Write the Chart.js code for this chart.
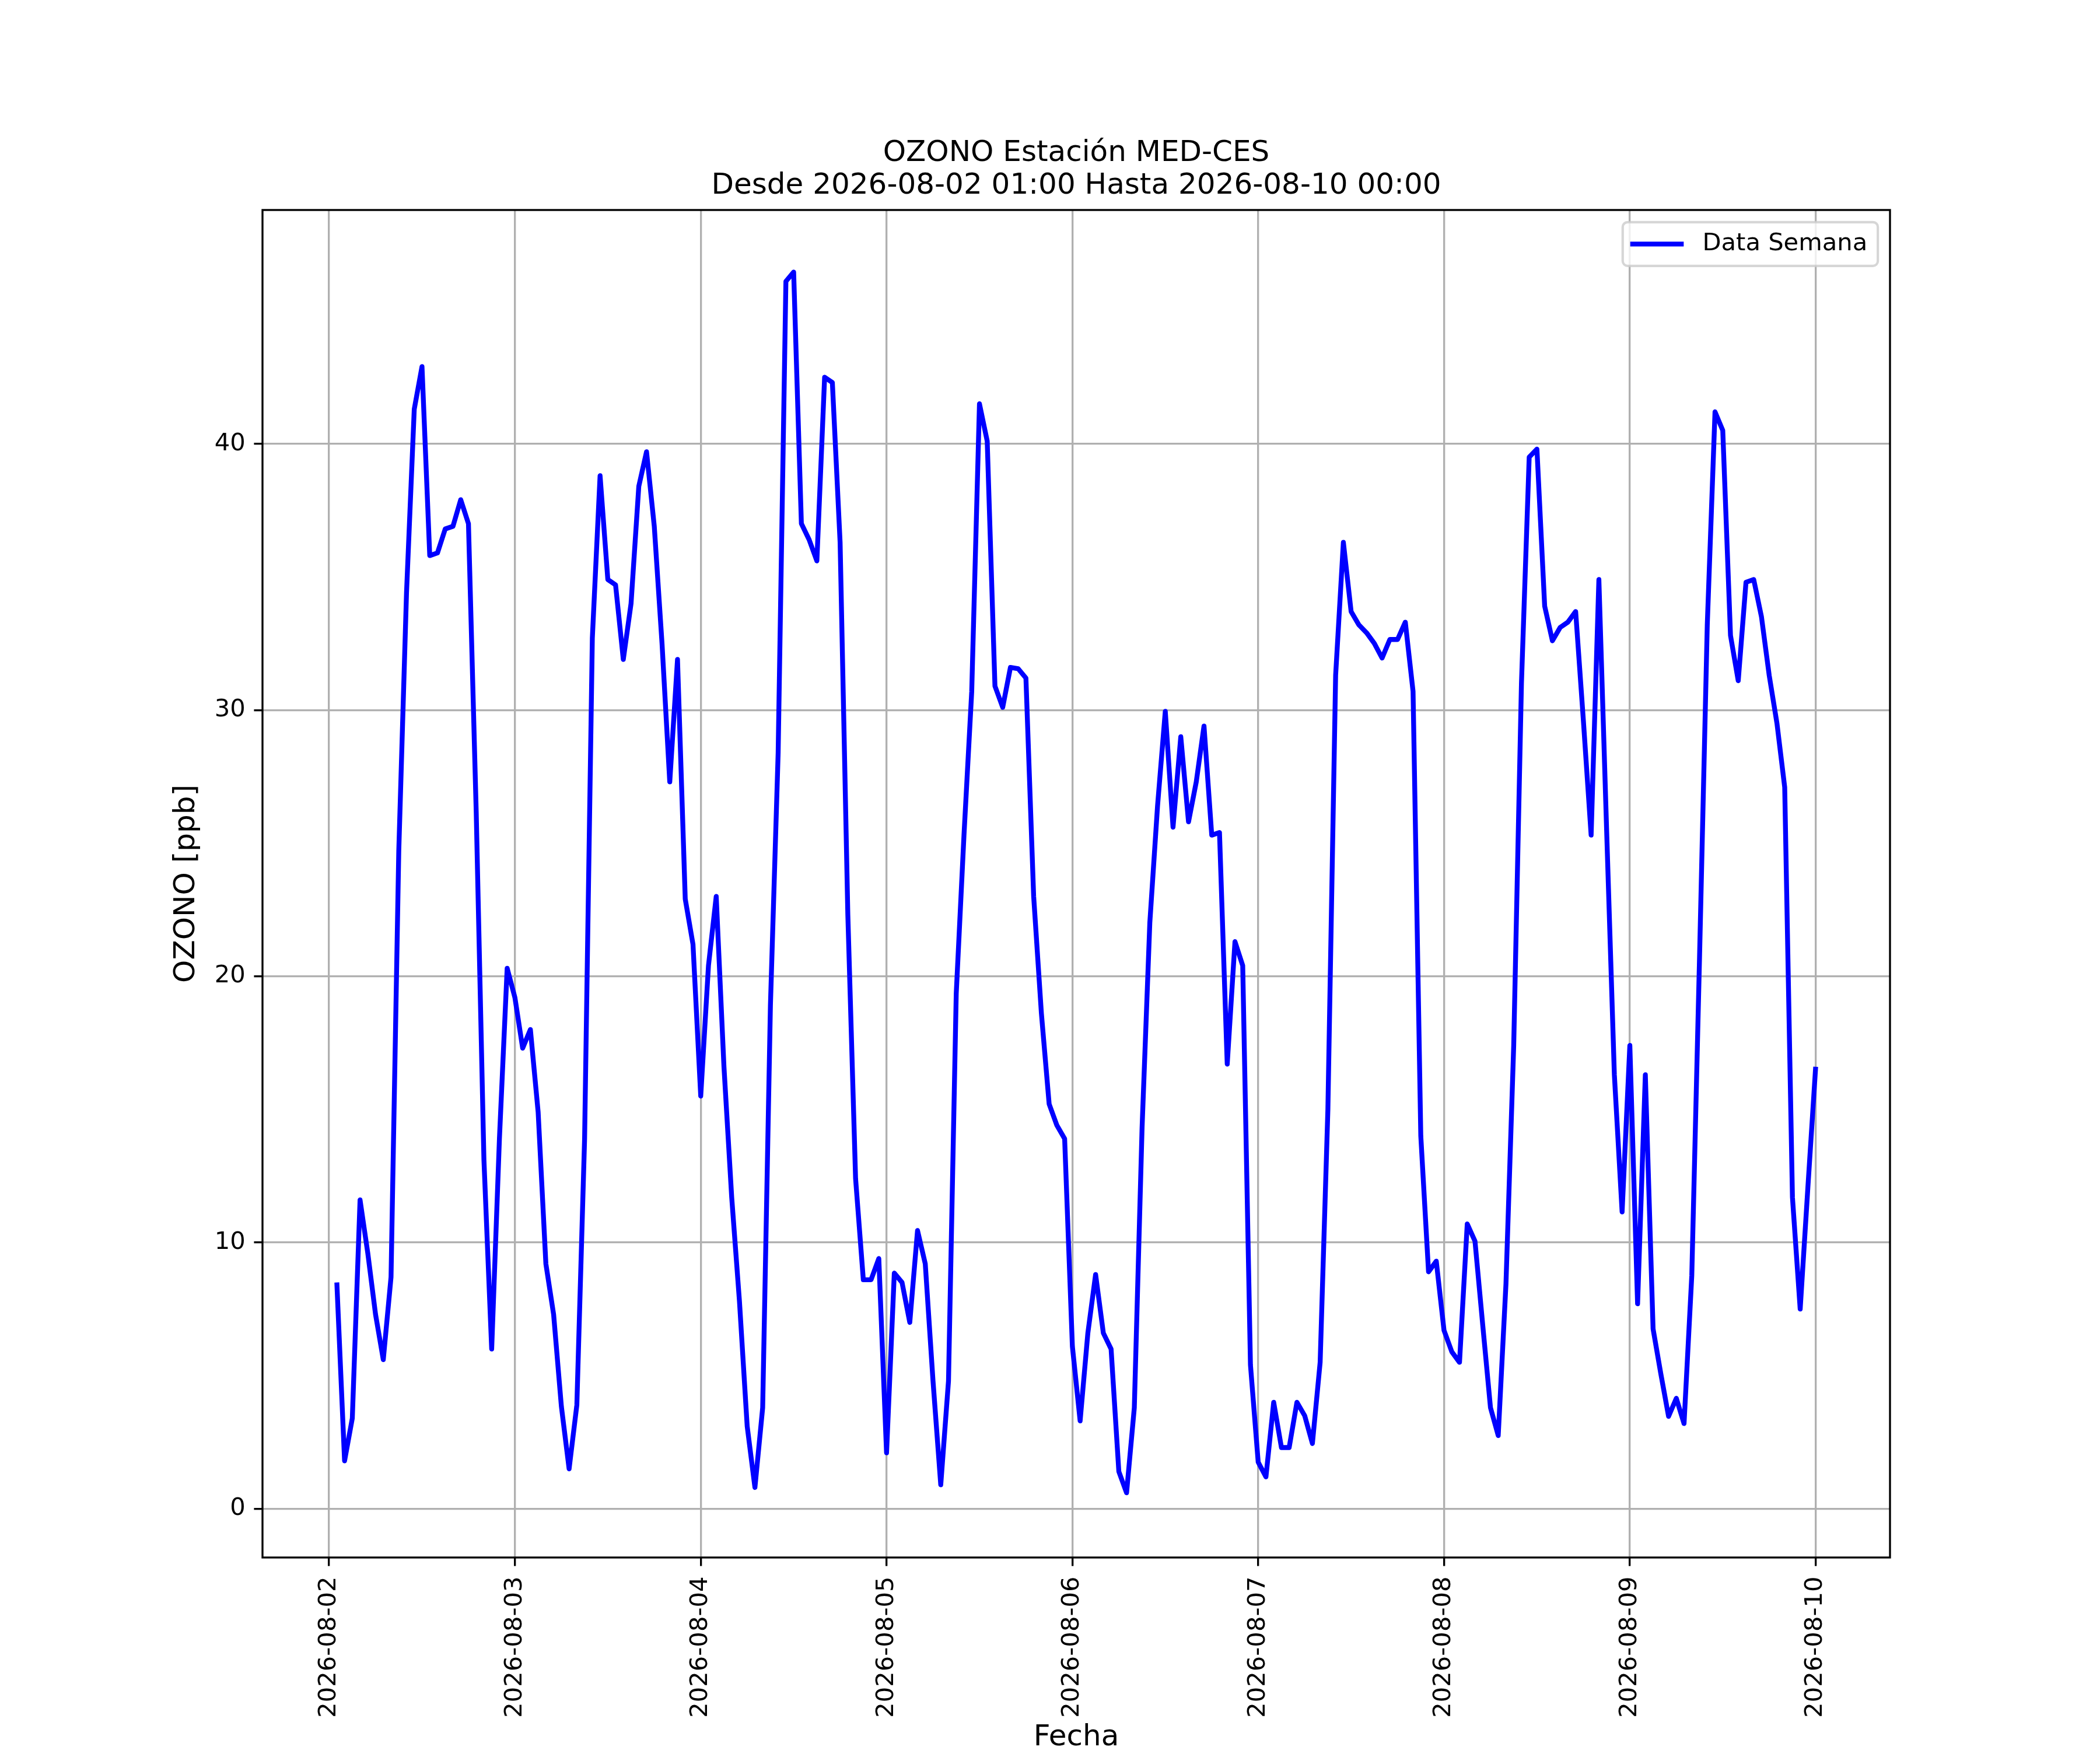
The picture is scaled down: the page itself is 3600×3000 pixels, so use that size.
<!DOCTYPE html>
<html>
<head>
<meta charset="utf-8">
<title>OZONO Estación MED-CES</title>
<script src="https://cdn.jsdelivr.net/npm/chart.js@4.4.1/dist/chart.umd.min.js"></script>
<style>
  html, body { margin: 0; padding: 0; background: #ffffff; }
  #c { display: block; }
</style>
</head>
<body>
<canvas id="c" width="3600" height="3000"></canvas>
<script>
// ---- Data (hourly, 2026-08-02 01:00 .. 2026-08-10 00:00) ----
const seriesLabel = 'Data Semana';
const startDate = '2026-08-02';      // x value 0 = 2026-08-02 00:00, unit = hour
const firstHour = 1;                 // first sample at 01:00
const ozone = [
  // 2026-08-02 01..23
  8.5, 1.8, 3.4, 11.6, 9.6, 7.3, 5.6, 8.7, 24.7, 34.4, 41.3, 42.9,
  35.8, 35.9, 36.8, 36.9, 37.9, 37.0, 26.2, 13.1, 6.0, 13.9, 20.3,
  // 2026-08-03 00..23
  19.2, 17.3, 18.0, 14.9, 9.2, 7.3, 3.85, 1.5, 3.9, 13.9, 32.7, 38.8,
  34.9, 34.7, 31.9, 34.0, 38.4, 39.7, 36.9, 32.5, 27.3, 31.9, 22.9, 21.2,
  // 2026-08-04 00..23
  15.5, 20.4, 23.0, 16.6, 11.7, 7.8, 3.1, 0.8, 3.8, 18.9, 28.4, 46.1,
  46.45, 37.0, 36.4, 35.6, 42.5, 42.3, 36.3, 22.3, 12.4, 8.6, 8.6, 9.4,
  // 2026-08-05 00..23
  2.1, 8.85, 8.5, 7.0, 10.45, 9.2, 4.8, 0.9, 4.8, 19.35, 25.3, 30.7,
  41.5, 40.1, 30.9, 30.1, 31.6, 31.55, 31.2, 23.0, 18.6, 15.2, 14.4, 13.9,
  // 2026-08-06 00..23
  6.1, 3.3, 6.6, 8.8, 6.6, 6.0, 1.4, 0.6, 3.8, 14.3, 22.0, 26.4,
  29.95, 25.6, 29.0, 25.8, 27.3, 29.4, 25.3, 25.4, 16.7, 21.3, 20.4, 5.4,
  // 2026-08-07 00..23
  1.75, 1.2, 4.0, 2.3, 2.3, 4.0, 3.5, 2.45, 5.5, 15.0, 31.3, 36.3,
  33.7, 33.2, 32.9, 32.5, 31.95, 32.65, 32.65, 33.3, 30.7, 14.0, 8.9, 9.3,
  // 2026-08-08 00..23
  6.7, 5.9, 5.5, 10.7, 10.05, 6.9, 3.8, 2.75, 8.45, 17.4, 31.0, 39.5,
  39.8, 33.9, 32.6, 33.1, 33.3, 33.7, 29.6, 25.3, 34.9, 25.5, 16.3, 11.15,
  // 2026-08-09 00..23
  17.4, 7.7, 16.3, 6.76, 5.07, 3.47, 4.15, 3.2, 8.76, 20.7, 33.2, 41.2,
  40.5, 32.8, 31.1, 34.8, 34.9, 33.5, 31.3, 29.5, 27.1, 11.7, 7.5, 12.1,
  // 2026-08-10 00
  16.6
];
const dayTickLabels = ['2026-08-02', '2026-08-03', '2026-08-04', '2026-08-05',
  '2026-08-06', '2026-08-07', '2026-08-08', '2026-08-09', '2026-08-10'];
const yTickValues = [0, 10, 20, 30, 40];
const titleLines = ['OZONO Estación MED-CES', 'Desde 2026-08-02 01:00 Hasta 2026-08-10 00:00'];
const xAxisTitle = 'Fecha';
const yAxisTitle = 'OZONO [ppb]';

// ---- Build library inputs ----
const HOURS_PER_DAY = 24;
const points = ozone.map((v, i) => ({ x: firstHour + i, y: v }));
const xTickValues = dayTickLabels.map((_, i) => i * HOURS_PER_DAY);

const FONT = 'DejaVu Sans';
const PT = 300 / 72; // 300 dpi figure
Chart.defaults.font.family = FONT;
Chart.defaults.color = '#000000';

const frameAndLegend = {
  id: 'frameAndLegend',
  afterDatasetsDraw(chart) {
    const { ctx, chartArea: a } = chart;
    ctx.save();
    ctx.strokeStyle = '#000000';
    ctx.lineWidth = 0.8 * PT;
    ctx.strokeRect(a.left, a.top, a.right - a.left, a.bottom - a.top);
    ctx.restore();
  },
  afterDraw(chart) {
    const { ctx, chartArea: a } = chart;
    const ds = chart.data.datasets[0];
    const fs = 10 * PT;
    ctx.save();
    ctx.font = fs + 'px "' + FONT + '"';
    const textW = ctx.measureText(ds.label).width;
    const padL = 0.31 * fs, lineLen = 2.2 * fs, gap = 0.77 * fs, padR = 0.43 * fs;
    const bw = padL + lineLen + gap + textW + padR;
    const bh = 1.8 * fs;
    const bx = a.right - 0.5 * fs - bw;
    const by = a.top + 0.5 * fs;
    const r = 0.2 * fs;
    ctx.beginPath();
    ctx.moveTo(bx + r, by);
    ctx.lineTo(bx + bw - r, by);
    ctx.arcTo(bx + bw, by, bx + bw, by + r, r);
    ctx.lineTo(bx + bw, by + bh - r);
    ctx.arcTo(bx + bw, by + bh, bx + bw - r, by + bh, r);
    ctx.lineTo(bx + r, by + bh);
    ctx.arcTo(bx, by + bh, bx, by + bh - r, r);
    ctx.lineTo(bx, by + r);
    ctx.arcTo(bx, by, bx + r, by, r);
    ctx.closePath();
    ctx.fillStyle = 'rgba(255,255,255,0.8)';
    ctx.fill();
    ctx.strokeStyle = 'rgba(204,204,204,0.8)';
    ctx.lineWidth = 1.0 * PT;
    ctx.stroke();
    const cy = by + bh / 2;
    const lx = bx + padL;
    ctx.beginPath();
    ctx.moveTo(lx, cy);
    ctx.lineTo(lx + lineLen, cy);
    ctx.strokeStyle = ds.borderColor;
    ctx.lineWidth = ds.borderWidth;
    ctx.stroke();
    ctx.fillStyle = '#000000';
    ctx.textAlign = 'left';
    ctx.textBaseline = 'middle';
    ctx.fillText(ds.label, lx + lineLen + gap, cy);
    ctx.restore();
  }
};

new Chart(document.getElementById('c'), {
  type: 'line',
  data: {
    datasets: [{
      label: seriesLabel,
      data: points,
      borderColor: '#0000ff',
      backgroundColor: '#0000ff',
      borderWidth: 2 * PT,
      pointRadius: 0,
      pointHoverRadius: 0,
      tension: 0,
      fill: false,
      borderJoinStyle: 'round',
      borderCapStyle: 'butt'
    }]
  },
  options: {
    responsive: false,
    devicePixelRatio: 1,
    animation: false,
    events: [],
    layout: { padding: { left: 0, right: 360, top: 0, bottom: 0 } },
    plugins: {
      legend: { display: false },
      tooltip: { enabled: false },
      title: {
        display: true,
        text: titleLines,
        fullSize: false,
        position: 'top',
        align: 'center',
        color: '#000000',
        font: { family: FONT, size: 12 * PT, weight: 'normal', lineHeight: 1.106 },
        padding: { top: 235.8, bottom: 13.6 }
      }
    },
    scales: {
      x: {
        type: 'linear',
        min: -8.6,
        max: 201.6,
        afterFit(s) { s.height = 330; },
        afterBuildTicks(s) { s.ticks = xTickValues.map(v => ({ value: v })); },
        ticks: {
          autoSkip: false,
          minRotation: 90,
          maxRotation: 90,
          padding: 18,
          color: '#000000',
          font: { family: FONT, size: 10 * PT },
          callback: (v) => dayTickLabels[Math.round(v / HOURS_PER_DAY)] ?? ''
        },
        grid: {
          color: '#b0b0b0',
          lineWidth: 0.8 * PT,
          drawTicks: true,
          tickLength: 3.5 * PT,
          tickColor: '#000000',
          tickWidth: 0.8 * PT
        },
        border: { display: false },
        title: {
          display: true,
          text: xAxisTitle,
          color: '#000000',
          font: { family: FONT, size: 12 * PT, lineHeight: 0.84 },
          padding: { top: 0, bottom: 0 }
        }
      },
      y: {
        type: 'linear',
        min: -1.83,
        max: 48.78,
        afterFit(s) { s.width = 450; },
        afterBuildTicks(s) { s.ticks = yTickValues.map(v => ({ value: v })); },
        ticks: {
          autoSkip: false,
          padding: 3.5 * PT,
          color: '#000000',
          font: { family: FONT, size: 10 * PT },
          callback: (v) => String(v)
        },
        grid: {
          color: '#b0b0b0',
          lineWidth: 0.8 * PT,
          drawTicks: true,
          tickLength: 3.5 * PT,
          tickColor: '#000000',
          tickWidth: 0.8 * PT
        },
        border: { display: false },
        title: {
          display: true,
          text: yAxisTitle,
          color: '#000000',
          font: { family: FONT, size: 12 * PT, lineHeight: 1.0 },
          padding: { top: 295, bottom: 0 }
        }
      }
    }
  },
  plugins: [frameAndLegend]
});
</script>
</body>
</html>
